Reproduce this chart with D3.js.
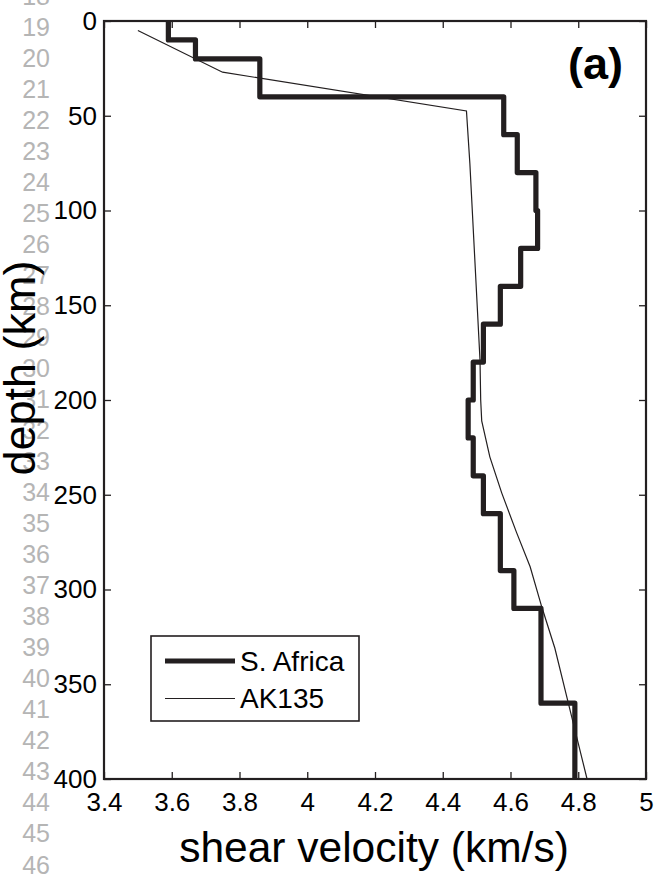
<!DOCTYPE html>
<html>
<head>
<meta charset="utf-8">
<script src="https://cdn.jsdelivr.net/npm/d3@7"></script>
<style>
  body { margin: 0; background: #fff; }
  svg { display: block; font-family: "Liberation Sans", Arial, Helvetica, sans-serif; }
</style>
</head>
<body>
<script>
// S. Africa model: layer tops (km) and shear velocity (km/s), last layer ends at 400
const saTops = [0, 10, 20, 40, 60, 80, 100, 120, 140, 160, 180, 200, 220, 240, 260, 290, 310, 360];
const saVs = [3.59, 3.67, 3.86, 4.58, 4.62, 4.675, 4.68, 4.63, 4.57, 4.52, 4.49, 4.475, 4.49, 4.52, 4.57, 4.61, 4.69, 4.79];
const saBottom = 400;

// AK135 reference curve
const akDepth = [5, 27, 47.5, 75, 179, 200, 211, 230, 249, 270, 288, 309, 331, 358, 371, 400];
const akVs = [3.50, 3.75, 4.47, 4.48, 4.51, 4.512, 4.515, 4.539, 4.574, 4.618, 4.658, 4.692, 4.731, 4.768, 4.786, 4.826];

const xTicks = [3.4, 3.6, 3.8, 4, 4.2, 4.4, 4.6, 4.8, 5];
const yTicks = [0, 50, 100, 150, 200, 250, 300, 350, 400];
const lineNumbers = d3.range(18, 47);

const width = 657, height = 876;
const plotL = 104, plotR = 646, plotT = 21, plotB = 779;
const ink = "#231f20";

const svg = d3.select("body").append("svg")
  .attr("width", width)
  .attr("height", height);

// manuscript line numbers down the left margin
svg.append("g")
  .selectAll("text")
  .data(lineNumbers)
  .join("text")
  .attr("x", 50)
  .attr("y", d => 26.7 + (d - 19) * 31.03)
  .attr("dy", "0.36em")
  .attr("text-anchor", "end")
  .attr("font-size", 25)
  .attr("fill", "#b5b5b5")
  .text(d => d);

const x = d3.scaleLinear().domain([3.4, 5]).range([plotL, plotR]);
const y = d3.scaleLinear().domain([0, 400]).range([plotT, plotB]);

// axes, ticks pointing inward on all four sides
const bottomAxis = svg.append("g")
  .attr("transform", `translate(0,${plotB})`)
  .call(d3.axisBottom(x).tickValues(xTicks).tickFormat(d3.format("~g"))
    .tickSizeInner(-7).tickSizeOuter(0).tickPadding(14));
const leftAxis = svg.append("g")
  .attr("transform", `translate(${plotL},0)`)
  .call(d3.axisLeft(y).tickValues(yTicks).tickFormat(d3.format("d"))
    .tickSizeInner(-7).tickSizeOuter(0).tickPadding(7));
const topAxis = svg.append("g")
  .attr("transform", `translate(0,${plotT})`)
  .call(d3.axisTop(x).tickValues(xTicks).tickFormat("").tickSizeInner(-7).tickSizeOuter(0));
const rightAxis = svg.append("g")
  .attr("transform", `translate(${plotR},0)`)
  .call(d3.axisRight(y).tickValues(yTicks).tickFormat("").tickSizeInner(-7).tickSizeOuter(0));

[bottomAxis, leftAxis, topAxis, rightAxis].forEach(g => {
  g.select(".domain").remove();
  g.selectAll(".tick line").attr("stroke", ink).attr("stroke-width", 1.3);
  g.selectAll(".tick text").attr("fill", "#000").attr("font-size", 26)
    .attr("font-family", "Liberation Sans, Arial, sans-serif");
});

svg.append("rect")
  .attr("x", plotL).attr("y", plotT)
  .attr("width", plotR - plotL).attr("height", plotB - plotT)
  .attr("fill", "none").attr("stroke", ink).attr("stroke-width", 2.2);

// step profile points
const saPoints = [];
saVs.forEach((v, i) => {
  const b = i < saTops.length - 1 ? saTops[i + 1] : saBottom;
  saPoints.push([v, saTops[i]], [v, b]);
});

const line = d3.line().x(d => x(d[0])).y(d => y(d[1]));

svg.append("path")
  .datum(akVs.map((v, i) => [v, akDepth[i]]))
  .attr("d", line)
  .attr("fill", "none")
  .attr("stroke", ink)
  .attr("stroke-width", 1.2);

svg.append("path")
  .datum(saPoints)
  .attr("d", line)
  .attr("fill", "none")
  .attr("stroke", ink)
  .attr("stroke-width", 5.2)
  .attr("stroke-linejoin", "round");

// label (a)
svg.append("text")
  .attr("x", 623).attr("y", 79)
  .attr("text-anchor", "end")
  .attr("font-size", 45)
  .attr("font-weight", "bold")
  .text("(a)");

// legend
const legend = svg.append("g");
legend.append("rect")
  .attr("x", 151).attr("y", 636).attr("width", 208).attr("height", 85)
  .attr("fill", "#fff").attr("stroke", ink).attr("stroke-width", 1.6);
const legendItems = [
  { name: "S. Africa", w: 5.2, yy: 661 },
  { name: "AK135", w: 1.2, yy: 698.5 }
];
legendItems.forEach(d => {
  legend.append("line")
    .attr("x1", 165).attr("x2", 235).attr("y1", d.yy).attr("y2", d.yy)
    .attr("stroke", ink).attr("stroke-width", d.w);
  legend.append("text")
    .attr("x", 240).attr("y", d.yy)
    .attr("dy", "0.35em")
    .attr("font-size", 28)
    .text(d.name);
});

// axis titles
svg.append("text")
  .attr("x", 374).attr("y", 862)
  .attr("text-anchor", "middle")
  .attr("font-size", 42.5)
  .text("shear velocity (km/s)");

svg.append("text")
  .attr("transform", "translate(35,368) rotate(-90)")
  .attr("text-anchor", "middle")
  .attr("font-size", 45)
  .text("depth (km)");
</script>
</body>
</html>
